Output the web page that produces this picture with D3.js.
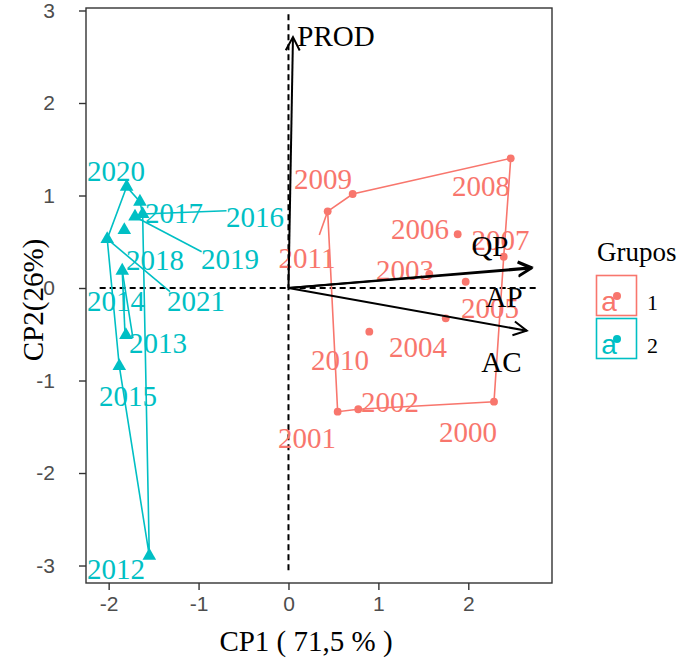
<!DOCTYPE html>
<html>
<head>
<meta charset="utf-8">
<script src="https://cdn.jsdelivr.net/npm/d3@7"></script>
<style>
  body { margin: 0; background: #fff; }
</style>
</head>
<body>
<div id="main"></div>
<script>
// Grupo 1 (2000-2011)
const grupo1Anos = ["2000", "2001", "2002", "2003", "2004", "2005", "2006", "2007", "2008", "2009", "2010", "2011"];
const grupo1CP1 = [2.286, 0.547, 0.776, 1.566, 1.749, 1.971, 1.882, 2.394, 2.472, 0.714, 0.899, 0.436];
const grupo1CP2 = [-1.229, -1.337, -1.311, 0.151, -0.328, 0.068, 0.581, 0.338, 1.402, 1.016, -0.472, 0.829];
const grupo1RotX = [1.997, 0.206, 1.129, 1.296, 1.440, 2.241, 1.463, 2.358, 2.141, 0.384, 0.573, 0.206];
const grupo1RotY = [-1.557, -1.622, -1.232, 0.195, -0.638, -0.216, 0.638, 0.519, 1.103, 1.178, -0.778, 0.324];
const grupo1Casco = ["2008", "2009", "2011", "2001", "2002", "2000", "2007"];

// Grupo 2 (2012-2021)
const grupo2Anos = ["2012", "2013", "2014", "2015", "2016", "2017", "2018", "2019", "2020", "2021"];
const grupo2CP1 = [-1.548, -1.808, -1.849, -1.882, -1.622, -1.652, -1.826, -1.707, -1.800, -2.016];
const grupo2CP2 = [-2.894, -0.508, 0.187, -0.843, 0.800, 0.933, 0.627, 0.771, 1.095, 0.530];
const grupo2RotX = [-1.919, -1.452, -1.919, -1.785, -0.373, -1.274, -1.485, -0.651, -1.919, -1.029];
const grupo2RotY = [-3.038, -0.595, -0.141, -1.168, 0.768, 0.811, 0.303, 0.314, 1.265, -0.141];
const grupo2Casco = ["2020", "2017", "2016", "2012", "2015", "2021"];

// linhas guia dos rotulos: [ano, x, y]
const segmentos = [
    ["2011", 0.343, 0.573],
    ["2016", -0.689, 0.835],
    ["2019", -0.966, 0.392],
    ["2021", -1.318, -0.040],
    ["2014", -1.819, -0.476],
    ["2014", -1.730, -0.541]
];

// Variaveis (vetores)
const variaveis = ["PROD", "QP", "AP", "AC"];
const varCP1 = [0.05, 2.705, 2.70, 2.650];
const varCP2 = [2.713, 0.224, 0.21, -0.462];
const varRotX = [0.528, 2.241, 2.397, 2.369];
const varRotY = [2.724, 0.454, -0.097, -0.80];

const xTicks = [-2, -1, 0, 1, 2];
const yTicks = [-3, -2, -1, 0, 1, 2, 3];
const gruposNomes = ["1", "2"];
const cores = ["#F8766D", "#00BFC4"];

class Biplot {
    constructor({ width = 681, height = 658, margin = { top: 8, right: 129, bottom: 75, left: 86 } } = {}) {
        this.w = width;
        this.h = height;
        this.margin = margin;
        this.svg = null;
    }

    createSvg(selector) {
        this.svg = d3.select(selector)
            .append("svg")
            .attr("width", this.w)
            .attr("height", this.h);
    }

    drawChart() {
        const m = this.margin;
        const width = this.w - m.left - m.right;
        const height = this.h - m.top - m.bottom;

        const x = d3.scaleLinear().domain([-2.252, 2.931]).range([0, width]);
        const y = d3.scaleLinear().domain([-3.189, 3.027]).range([height, 0]);

        const g = this.svg.append("g")
            .attr("transform", `translate(${m.left},${m.top})`);

        const serif = "'Liberation Serif', 'Times New Roman', serif";

        // linhas tracejadas
        g.append("line")
            .attr("x1", x(-2.10)).attr("x2", x(2.76))
            .attr("y1", y(0)).attr("y2", y(0))
            .attr("stroke", "#000").attr("stroke-width", 2)
            .attr("stroke-dasharray", "6,4");
        g.append("line")
            .attr("x1", x(0)).attr("x2", x(0))
            .attr("y1", y(-3.05)).attr("y2", y(2.98))
            .attr("stroke", "#000").attr("stroke-width", 2)
            .attr("stroke-dasharray", "6,4");

        const grupos = [
            { anos: grupo1Anos, cp1: grupo1CP1, cp2: grupo1CP2, rx: grupo1RotX, ry: grupo1RotY, casco: grupo1Casco, cor: cores[0], forma: "circle" },
            { anos: grupo2Anos, cp1: grupo2CP1, cp2: grupo2CP2, rx: grupo2RotX, ry: grupo2RotY, casco: grupo2Casco, cor: cores[1], forma: "triangle" }
        ];

        grupos.forEach(gr => {
            const pts = gr.anos.map((a, i) => ({ ano: a, x: gr.cp1[i], y: gr.cp2[i], rx: gr.rx[i], ry: gr.ry[i] }));
            const porAno = new Map(pts.map(p => [p.ano, p]));

            // casco convexo
            g.append("path")
                .datum(gr.casco.map(a => porAno.get(a)))
                .attr("d", d3.line().x(d => x(d.x)).y(d => y(d.y)).curve(d3.curveLinearClosed))
                .attr("fill", "none")
                .attr("stroke", gr.cor)
                .attr("stroke-width", 1.6);

            // linhas guia
            segmentos.filter(s => porAno.has(s[0])).forEach(s => {
                const p = porAno.get(s[0]);
                g.append("line")
                    .attr("x1", x(p.x)).attr("y1", y(p.y))
                    .attr("x2", x(s[1])).attr("y2", y(s[2]))
                    .attr("stroke", gr.cor).attr("stroke-width", 1.6);
            });

            // pontos
            const sym = gr.forma === "circle"
                ? d3.symbol().type(d3.symbolCircle).size(48)
                : d3.symbol().type(d3.symbolTriangle).size(80);
            g.selectAll(null)
                .data(pts)
                .join("path")
                .attr("d", sym)
                .attr("transform", d => `translate(${x(d.x)},${y(d.y)})`)
                .attr("fill", gr.cor);

            // rotulos
            g.selectAll(null)
                .data(pts)
                .join("text")
                .attr("x", d => x(d.rx))
                .attr("y", d => y(d.ry))
                .attr("dy", "0.34em")
                .attr("text-anchor", "middle")
                .style("font-family", serif)
                .style("font-size", "29px")
                .attr("fill", gr.cor)
                .text(d => d.ano);
        });

        // vetores das variaveis
        const vars = variaveis.map((v, i) => ({ nome: v, x: varCP1[i], y: varCP2[i], rx: varRotX[i], ry: varRotY[i] }));
        vars.forEach(v => {
            const x0 = x(0), y0 = y(0), x1 = x(v.x), y1 = y(v.y);
            const ang = Math.atan2(y1 - y0, x1 - x0);
            const len = 15, a = Math.PI / 6.5;
            const p1 = [x1 - len * Math.cos(ang - a), y1 - len * Math.sin(ang - a)];
            const p2 = [x1 - len * Math.cos(ang + a), y1 - len * Math.sin(ang + a)];
            g.append("line")
                .attr("x1", x0).attr("y1", y0).attr("x2", x1).attr("y2", y1)
                .attr("stroke", "#000").attr("stroke-width", 2);
            g.append("path")
                .attr("d", `M${p1[0]},${p1[1]}L${x1},${y1}L${p2[0]},${p2[1]}`)
                .attr("fill", "none").attr("stroke", "#000").attr("stroke-width", 2);
        });
        g.selectAll(null)
            .data(vars)
            .join("text")
            .attr("x", d => x(d.rx))
            .attr("y", d => y(d.ry))
            .attr("dy", "0.34em")
            .attr("text-anchor", "middle")
            .style("font-family", serif)
            .style("font-size", "29px")
            .attr("fill", "#000")
            .text(d => d.nome);

        // borda do painel
        g.append("rect")
            .attr("width", width).attr("height", height)
            .attr("fill", "none").attr("stroke", "#333").attr("stroke-width", 1.4);

        // Eixo X
        const ax = g.append("g")
            .attr("transform", `translate(0,${height})`)
            .call(d3.axisBottom(x).tickValues(xTicks).tickSize(7).tickPadding(6).tickFormat(d3.format("d")));
        // Eixo Y
        const ay = g.append("g")
            .call(d3.axisLeft(y).tickValues(yTicks).tickSize(7).tickPadding(24).tickFormat(d3.format("d")));
        [ax, ay].forEach(a => {
            a.select(".domain").remove();
            a.selectAll("line").attr("stroke", "#333").attr("stroke-width", 1.4);
            a.selectAll("text")
                .attr("fill", "#4D4D4D")
                .style("font-family", "'Liberation Sans', Arial, sans-serif")
                .style("font-size", "21px");
        });
        ay.selectAll("text").attr("text-anchor", "end").attr("x", -31);
        // use hyphen-minus like the reference
        ax.selectAll("text").text(d => String(d));
        ay.selectAll("text").text(d => String(d));

        // Rotulo do eixo X
        this.svg.append("text")
            .attr("x", 306)
            .attr("y", 651)
            .attr("text-anchor", "middle")
            .style("font-family", serif)
            .style("font-size", "29px")
            .text("CP1 ( 71,5 % )");

        // Rotulo do eixo Y
        this.svg.append("text")
            .attr("transform", "translate(43,300) rotate(-90)")
            .attr("text-anchor", "middle")
            .style("font-family", serif)
            .style("font-size", "29px")
            .text("CP2(26%)");

        // Legenda
        const leg = this.svg.append("g").attr("transform", "translate(596,0)");
        leg.append("text")
            .attr("x", 1).attr("y", 261)
            .style("font-family", serif)
            .style("font-size", "27px")
            .text("Grupos");
        gruposNomes.forEach((nome, i) => {
            const k = leg.append("g").attr("transform", `translate(0,${275 + i * 43})`);
            k.append("rect")
                .attr("x", 0.5).attr("y", 0.5).attr("width", 40).attr("height", 40)
                .attr("fill", "#fff").attr("stroke", cores[i]).attr("stroke-width", 1.6);
            k.append("text")
                .attr("x", 13).attr("y", 36)
                .attr("text-anchor", "middle")
                .style("font-family", "'Liberation Sans', Arial, sans-serif")
                .style("font-size", "28px")
                .attr("fill", cores[i])
                .text("a");
            k.append("circle")
                .attr("cx", 21).attr("cy", 21).attr("r", 4)
                .attr("fill", cores[i]);
            k.append("text")
                .attr("x", 51).attr("y", 35)
                .style("font-family", serif)
                .style("font-size", "22px")
                .text(nome);
        });
    }

    run(selector) {
        this.createSvg(selector);
        this.drawChart();
    }
}

window.onload = () => {
    const app = new Biplot({ width: 681, height: 658 });
    app.run("#main");
};
</script>
</body>
</html>
